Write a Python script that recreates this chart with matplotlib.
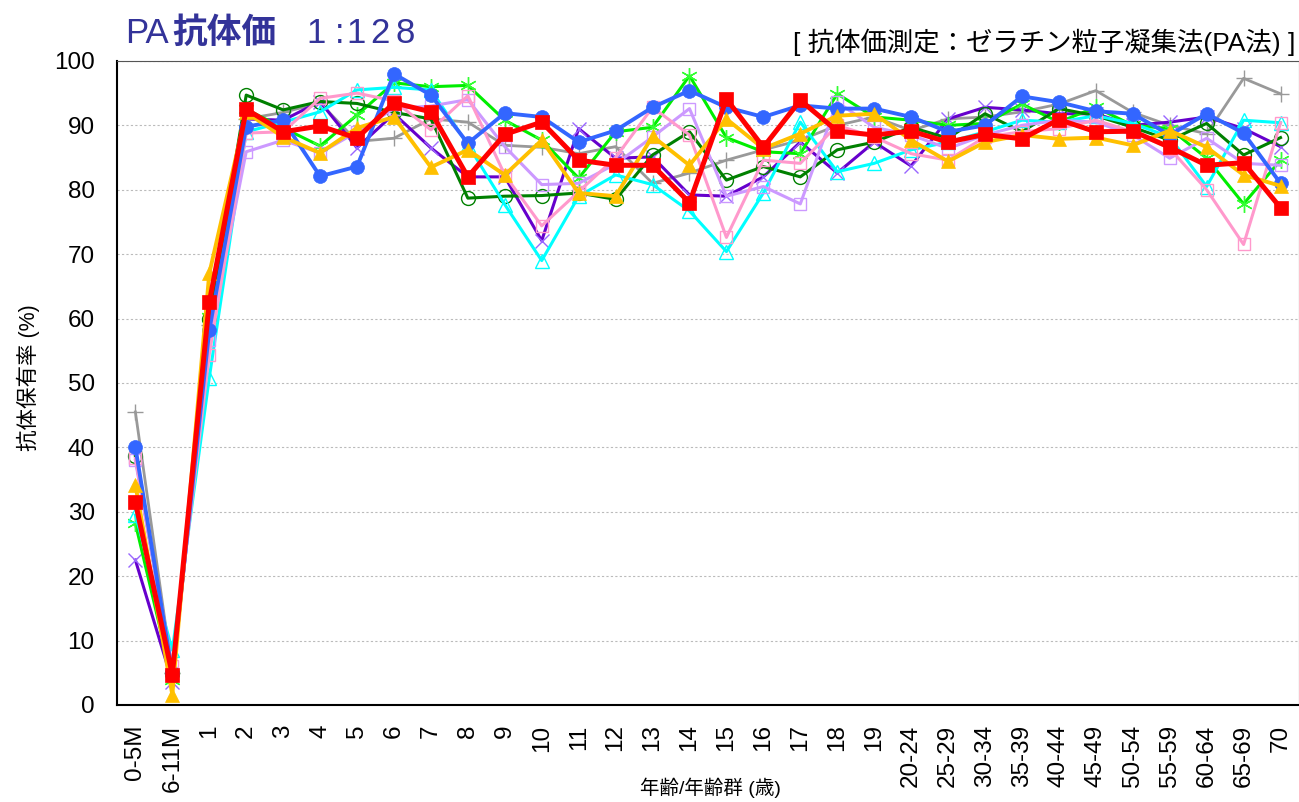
import matplotlib
matplotlib.use("Agg")
import matplotlib.pyplot as plt

plt.rcParams['font.family'] = ['Liberation Sans', 'Noto Sans CJK JP']

# Age groups
ages = ["0-5M", "6-11M"] + [str(i) for i in range(1, 20)] + \
       ["20-24", "25-29", "30-34", "35-39", "40-44", "45-49",
        "50-54", "55-59", "60-64", "65-69", "70"]

# Antibody positive rate (%) per series, oldest survey first
s_gray = [45.5, 5.0, 59.0, 91.0, 92.0, 93.5, 87.5, 88.0, 91.0, 90.5, 86.9, 86.6, 85.6, 86.7, 81.0, 82.6,
          84.6, 86.2, 87.7, 90.0, 91.3, 89.2, 91.0, 91.3, 92.1, 93.3, 95.4, 92.0, 90.0, 88.7, 97.3, 94.9]
s_purple = [22.5, 3.6, 59.0, 91.0, 90.8, 93.7, 86.5, 91.8, 86.5, 82.0, 82.0, 72.1, 89.5, 84.9, 85.1, 79.2,
            79.0, 82.0, 87.4, 82.6, 87.4, 83.7, 91.0, 92.8, 92.4, 91.8, 91.8, 90.0, 90.5, 91.3, 89.5, 86.7]
s_green = [28.2, 3.9, 60.3, 92.5, 89.6, 86.8, 91.6, 96.6, 96.0, 96.2, 90.8, 87.7, 81.8, 89.0, 89.7, 97.7,
           88.1, 85.9, 85.6, 94.9, 91.3, 90.8, 90.0, 90.3, 93.3, 90.5, 92.8, 90.0, 89.5, 84.9, 77.8, 84.6]
s_dkgreen = [38.6, 5.0, 60.0, 94.7, 92.4, 93.7, 93.4, 92.0, 91.0, 78.7, 79.0, 79.1, 79.5, 78.5, 85.4, 89.0,
             81.5, 83.6, 82.0, 86.2, 87.4, 89.7, 88.0, 91.8, 89.0, 92.6, 91.5, 89.7, 87.7, 90.3, 85.4, 88.1]
s_cyan = [29.5, 8.5, 50.8, 89.0, 90.5, 92.1, 95.5, 95.9, 95.5, 87.0, 77.7, 69.0, 79.0, 82.3, 80.8, 76.7,
          70.4, 79.5, 90.5, 82.8, 84.1, 86.2, 87.4, 89.0, 90.8, 90.5, 91.5, 90.3, 88.2, 80.5, 90.8, 90.4]
s_pink = [38.3, 6.0, 54.4, 88.8, 89.0, 94.2, 95.0, 93.8, 89.3, 94.6, 82.3, 74.4, 79.7, 85.0, 92.8, 88.5,
          72.6, 84.6, 84.1, 90.0, 88.2, 85.6, 84.6, 88.2, 89.0, 89.5, 90.8, 89.0, 86.4, 80.0, 71.5, 90.4]
s_lavender = [38.0, 5.0, 56.7, 85.9, 87.7, 85.7, 89.0, 92.6, 93.0, 94.0, 86.7, 80.8, 81.0, 84.0, 88.2, 92.6,
              79.0, 80.5, 77.8, 93.6, 89.7, 88.5, 86.4, 88.5, 90.0, 90.8, 90.5, 88.5, 84.9, 88.0, 84.1, 83.8]
s_blue = [40.0, 5.0, 58.2, 89.8, 90.8, 82.1, 83.6, 98.0, 94.7, 87.2, 91.9, 91.3, 87.4, 89.2, 92.8, 95.4,
          92.8, 91.3, 93.1, 92.6, 92.6, 91.3, 89.0, 90.0, 94.5, 93.6, 92.2, 91.8, 88.5, 91.8, 88.8, 81.0]
s_yellow = [34.2, 1.6, 67.0, 92.0, 88.2, 85.7, 89.6, 91.3, 83.5, 86.2, 82.3, 87.7, 79.5, 79.0, 88.3, 83.8,
            91.0, 86.4, 88.7, 91.5, 91.8, 87.7, 84.4, 87.4, 88.5, 87.9, 88.1, 86.9, 89.2, 86.6, 82.3, 80.6]
s_red = [31.5, 4.7, 62.5, 92.5, 89.0, 89.9, 88.0, 93.5, 92.1, 82.0, 88.6, 90.5, 84.6, 83.8, 83.8, 78.0,
         94.1, 86.6, 93.9, 89.1, 88.5, 89.1, 87.4, 88.6, 87.9, 90.9, 89.0, 89.1, 86.6, 83.8, 84.2, 77.2]

fig = plt.figure(figsize=(12.99, 8.02), dpi=100)
ax = fig.add_axes([0.090, 0.121, 0.910, 0.803])

asterisk = (6, 2, 0)

# (data, line colour, marker, marker colour, filled, line width, marker size)
styles = [
    (s_gray, "#999999", "+", "#999999", False, 2.0, 11),
    (s_purple, "#6600cc", "x", "#9966ff", False, 2.2, 10),
    (s_green, "#00ee00", asterisk, "#33ff33", False, 2.2, 12),
    (s_dkgreen, "#008000", "o", "#008000", False, 2.2, 10),
    (s_cyan, "#00ffff", "^", "#00ffff", False, 2.2, 10),
    (s_lavender, "#cc99ff", "s", "#cc99ff", False, 2.2, 9),
    (s_pink, "#ff99cc", "s", "#ff99cc", False, 2.2, 9),
    (s_blue, "#3366ff", "o", "#3366ff", True, 2.8, 10),
    (s_yellow, "#ffc000", "^", "#ffc000", True, 2.8, 10),
    (s_red, "#ff0000", "s", "#ff0000", True, 3.6, 10),
]

for i, (vals, lc, mk, mc, filled, lw, ms) in enumerate(styles):
    ax.plot(ages, vals, color=lc, linewidth=lw, marker=mk, markersize=ms,
            markeredgecolor=mc, markerfacecolor=mc if filled else "none",
            markeredgewidth=1.0 if not filled else 0.5, zorder=3 + i)

ax.set_xlim(-0.5, len(ages) - 0.5)
ax.set_ylim(0, 100)
ax.set_yticks(range(0, 101, 10))
ax.yaxis.grid(True, color="#bbbbbb", linestyle=(0, (2, 2)), linewidth=0.8)
ax.set_axisbelow(True)

ax.tick_params(axis="y", length=0, labelsize=17.5, pad=16)
ax.tick_params(axis="x", length=0, labelsize=17.5, rotation=90, pad=14)

ax.spines["left"].set_linewidth(1.5)
ax.spines["bottom"].set_linewidth(1.5)
ax.spines["top"].set_color("#555555")
ax.spines["top"].set_linestyle((0, (2, 1)))
ax.spines["right"].set_color("#555555")

# titles
tc = "#333399"
base = 1 - 43 / 802
fig.text(125 / 1299, base, "PA", fontsize=25, color=tc, va="baseline")
fig.text(172 / 1299, base, "抗体価", fontsize=25, color=tc, va="baseline",
         fontweight="bold", family=["Noto Sans CJK JP"])
# spaced-out ratio text
for ch, xc in zip("1:128", [316, 340, 356, 380, 405]):
    fig.text(xc / 1299, base, ch, fontsize=25, color=tc, va="baseline", ha="center")
fig.text(1295 / 1299, 1 - 51 / 802, "[ 抗体価測定：ゼラチン粒子凝集法(PA法) ]",
         fontsize=19, ha="right", va="baseline")

fig.text(28 / 1299, 1 - 378 / 802, "抗体保有率 (%)", fontsize=15.5, rotation=90,
         ha="center", va="center")
fig.text(710 / 1299, 1 - 788 / 802, "年齢/年齢群 (歳)", fontsize=14,
         ha="center", va="center")

fig.savefig("out.png", dpi=100)
